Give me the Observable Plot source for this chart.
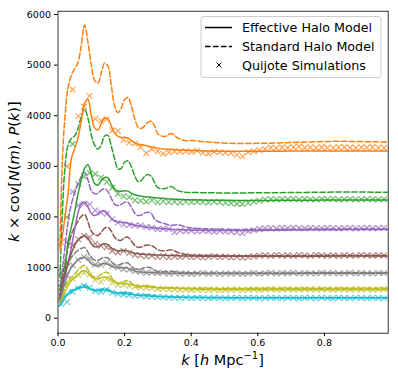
<!DOCTYPE html>
<html><head><meta charset="utf-8">
<script src="https://cdn.jsdelivr.net/npm/d3@7"></script>
<script src="https://cdn.jsdelivr.net/npm/@observablehq/plot@0.6"></script>
<style>body{margin:0;background:#fff;} #chart{width:398px;height:378px;}</style>
</head><body><div id="chart"></div>
<script>
// model wavenumbers
const kModel = [0.006,0.0125,0.02,0.03,0.04,0.05,0.06,0.07,0.08,0.09,0.10,0.11,0.12,0.13,0.14,0.15,0.16,0.17,0.18,0.19,0.20,0.21,0.22,0.23,0.24,0.25,0.26,0.27,0.28,0.29,0.30,0.32,0.34,0.36,0.38,0.40,0.45,0.50,0.55,0.60,0.65,0.70,0.75,0.80,0.85,0.90,0.95,0.99];
// simulation wavenumbers
const kSim = [0.010,0.027,0.044,0.061,0.078,0.095,0.112,0.129,0.146,0.163,0.180,0.197,0.214,0.231,0.248,0.265,0.282,0.299,0.316,0.333,0.350,0.367,0.384,0.401,0.418,0.435,0.452,0.469,0.486,0.503,0.520,0.537,0.554,0.571,0.588,0.605,0.622,0.639,0.656,0.673,0.690,0.707,0.724,0.741,0.758,0.775,0.792,0.809,0.826,0.843,0.860,0.877,0.894,0.911,0.928,0.945,0.962,0.979];

const seriesNames = ["bin1","bin2","bin3","bin4","bin5","bin6","bin7"];
const seriesColors = ["#ff7f0e","#2ca02c","#9467bd","#8c564b","#7f7f7f","#bcbd22","#17becf"];

// Effective Halo Model
const eff1 = [1340,1580,1960,2450,3150,3350,3560,3900,4250,4320,4000,3760,3720,3850,3950,3940,3800,3660,3590,3570,3575,3560,3510,3470,3440,3425,3415,3400,3385,3370,3360,3345,3335,3325,3318,3312,3305,3300,3298,3298,3300,3302,3305,3305,3305,3305,3305,3305];
const eff2 = [550,700,900,1500,1800,2100,2450,2740,2960,3030,2850,2660,2630,2720,2780,2770,2660,2550,2510,2510,2520,2510,2470,2440,2425,2410,2400,2395,2390,2380,2375,2365,2355,2348,2342,2338,2332,2328,2326,2326,2328,2330,2332,2334,2335,2335,2335,2335];
const eff3 = [450,600,800,1080,1400,1750,2080,2260,2290,2200,2070,2030,2060,2110,2120,2060,1970,1920,1900,1895,1890,1875,1850,1835,1825,1815,1805,1795,1788,1780,1775,1765,1757,1750,1745,1740,1735,1733,1733,1735,1738,1742,1745,1748,1750,1752,1753,1755];
const eff4 = [380,650,870,1100,1280,1440,1540,1600,1630,1580,1470,1410,1410,1450,1470,1450,1390,1350,1335,1335,1338,1330,1305,1285,1275,1268,1262,1257,1253,1250,1247,1242,1238,1234,1231,1229,1225,1223,1222,1222,1223,1224,1225,1226,1227,1227,1227,1227];
const eff5 = [330,520,680,880,1000,1080,1160,1190,1205,1160,1080,1045,1045,1070,1080,1065,1030,1010,1000,995,995,985,960,935,920,912,907,903,900,897,895,891,888,886,885,884,883,882,882,883,884,885,886,887,888,888,888,888];
const eff6 = [290,380,500,650,740,800,860,920,940,900,820,785,780,800,812,800,760,720,695,685,680,675,660,648,640,632,625,618,612,607,603,596,590,585,580,577,572,568,566,565,565,566,567,568,568,568,568,568];
const eff7 = [250,330,400,470,520,560,585,605,612,595,560,548,545,548,550,545,525,505,492,485,482,478,470,462,455,450,445,440,436,432,429,424,419,415,412,410,406,404,403,402,402,402,402,402,402,402,402,402];

// Standard Halo Model
const std1 = [1400,3000,3900,4550,4800,4930,5050,5400,5790,5450,5000,4700,4640,4850,5040,4980,4600,4200,4060,4150,4320,4360,4200,3950,3780,3750,3800,3870,3890,3800,3640,3590,3650,3560,3510,3510,3480,3460,3450,3455,3460,3470,3480,3490,3495,3490,3485,3480];
const std2 = [800,2000,2900,3420,3550,3600,3750,3980,4130,3950,3620,3420,3340,3430,3600,3610,3400,3150,2950,2960,3080,3110,3000,2820,2700,2720,2800,2840,2800,2680,2580,2560,2600,2520,2490,2485,2478,2475,2475,2478,2480,2483,2486,2490,2492,2492,2490,2488];
const std3 = [550,950,1350,1900,2250,2480,2650,2800,2880,2730,2520,2460,2470,2530,2560,2500,2370,2250,2225,2250,2290,2290,2200,2080,2030,2040,2080,2095,2070,1960,1910,1870,1835,1845,1810,1785,1765,1755,1752,1752,1755,1757,1760,1762,1763,1763,1762,1762];
const std4 = [450,800,1050,1400,1650,1800,1920,2010,2050,1900,1720,1650,1635,1700,1780,1795,1720,1600,1545,1540,1590,1600,1530,1440,1400,1405,1435,1445,1430,1400,1350,1330,1350,1300,1265,1250,1240,1236,1234,1233,1234,1235,1236,1237,1238,1238,1237,1237];
const std5 = [380,620,820,1050,1200,1280,1340,1380,1395,1300,1200,1150,1140,1180,1200,1190,1120,1060,1050,1070,1095,1090,1030,980,965,975,1000,1005,990,950,925,920,930,910,900,897,894,892,892,893,894,895,896,897,897,897,897,897];
const std6 = [320,450,580,730,800,870,950,1010,1040,960,850,815,820,870,905,900,810,720,685,690,730,745,700,640,615,620,640,648,640,615,600,600,605,598,594,592,590,589,589,590,591,592,593,594,594,594,594,594];
const std7 = [260,350,430,500,545,580,610,635,645,615,570,555,560,575,580,570,535,505,495,500,515,515,490,465,455,458,465,465,455,440,430,428,425,418,414,412,409,407,406,406,406,406,406,406,406,406,406,406];

// Quijote Simulations
const sim1 = [1500,3000,4520,3990,4180,4390,3940,3900,3930,3710,3700,3520,3470,3450,3380,3260,3340,3300,3250,3280,3300,3290,3300,3290,3310,3270,3250,3290,3280,3270,3260,3230,3200,3280,3300,3320,3340,3370,3360,3375,3365,3380,3390,3370,3375,3365,3380,3370,3365,3375,3380,3370,3365,3375,3370,3380,3370,3365];
const sim2 = [900,2000,3440,2650,2800,2870,2850,2780,2690,2580,2460,2410,2390,2330,2320,2300,2330,2290,2310,2290,2300,2285,2305,2290,2300,2295,2285,2300,2290,2280,2270,2260,2255,2280,2300,2320,2345,2350,2345,2355,2350,2360,2345,2355,2350,2345,2355,2350,2360,2345,2350,2355,2345,2350,2355,2350,2345,2350];
const sim3 = [700,1500,2500,2230,2260,2250,2130,2090,2060,1960,1890,1850,1840,1830,1830,1800,1790,1760,1770,1760,1700,1730,1720,1730,1715,1725,1720,1710,1725,1715,1710,1700,1680,1720,1740,1760,1775,1780,1770,1785,1775,1790,1780,1775,1785,1780,1775,1785,1780,1775,1780,1785,1775,1780,1785,1775,1780,1785];
const sim4 = [600,1100,1440,1560,1630,1600,1470,1430,1400,1330,1300,1330,1290,1250,1240,1220,1235,1210,1230,1205,1225,1210,1230,1205,1220,1200,1215,1225,1205,1220,1200,1215,1195,1210,1225,1235,1245,1230,1250,1235,1245,1230,1250,1240,1230,1250,1240,1235,1245,1230,1245,1240,1235,1250,1240,1235,1245,1240];
const sim5 = [450,850,1050,1150,1210,1180,1060,1050,1090,1030,1000,970,960,930,915,900,905,890,900,880,895,880,890,875,885,895,880,890,875,885,880,890,875,885,895,880,890,900,885,895,890,900,885,895,890,885,900,890,895,885,890,900,885,895,890,885,895,890];
const sim6 = [400,700,780,850,900,860,760,720,780,700,660,660,640,620,610,600,590,580,585,570,575,565,570,560,570,565,560,570,555,565,560,570,555,565,570,560,570,575,565,570,575,565,570,575,570,565,575,570,565,575,570,565,575,570,575,565,570,575];
const sim7 = [280,320,520,590,640,600,540,520,560,510,480,470,460,440,445,430,425,420,415,410,405,400,410,395,405,400,395,405,400,395,400,405,395,400,405,395,400,405,400,395,405,400,395,405,400,395,405,400,395,405,400,395,405,400,395,405,400,395];

const legendLabels = ["Effective Halo Model","Standard Halo Model","Quijote Simulations"];
const xTicks = [0,0.2,0.4,0.6,0.8];
const yTicks = [0,1000,2000,3000,4000,5000,6000];

const effective = [eff1,eff2,eff3,eff4,eff5,eff6,eff7];
const standard = [std1,std2,std3,std4,std5,std6,std7];
const sims = [sim1,sim2,sim3,sim4,sim5,sim6,sim7];

const effRows = [], stdRows = [], simRows = [];
seriesNames.forEach((s, i) => {
  kModel.forEach((k, j) => {
    effRows.push({k, v: effective[i][j], s});
    stdRows.push({k, v: standard[i][j], s});
  });
  kSim.forEach((k, j) => simRows.push({k, v: sims[i][j], s}));
});

const plot = Plot.plot({
  width: 398, height: 378,
  marginLeft: 57.5, marginRight: 10.3, marginTop: 10.7, marginBottom: 45.3,
  style: {fontFamily: "DejaVu Sans", fontSize: "9.5px", color: "black", background: "white"},
  x: {domain: [0, 0.9916], ticks: xTicks, tickFormat: d3.format(".1f"), label: null, tickSize: 3.5, tickPadding: 3},
  y: {domain: [-296, 6065], ticks: yTicks, tickFormat: d => String(d), label: null, tickSize: 3.5, tickPadding: 3.5},
  color: {domain: seriesNames, range: seriesColors},
  marks: [
    Plot.dot(simRows, {x: "k", y: "v", stroke: "s", symbol: "times", r: 2.7, strokeWidth: 1.2, strokeOpacity: 0.7, clip: true}),
    Plot.line(stdRows, {x: "k", y: "v", stroke: "s", z: "s", strokeWidth: 1.5, strokeDasharray: "5.55,2.4", curve: "catmull-rom", clip: true}),
    Plot.line(effRows, {x: "k", y: "v", stroke: "s", z: "s", strokeWidth: 1.5, curve: "catmull-rom", clip: true}),
    Plot.frame({stroke: "black", strokeWidth: 0.8})
  ]
});

document.getElementById("chart").appendChild(plot);

const svg = d3.select(plot);
const ns = "DejaVu Sans";
// y label
const yl = svg.append("text")
  .attr("transform", "translate(19,171.7) rotate(-90)")
  .attr("text-anchor", "middle")
  .style("font-family", ns).style("font-size", "14.5px").attr("fill", "black");
[["k",1],[" × cov[",0],["N",1],["(",0],["m",1],["), ",0],["P",1],["(",0],["k",1],[")]",0]].forEach(([t, it]) => {
  yl.append("tspan").text(t).style("font-style", it ? "italic" : "normal");
});
// x label
const xl = svg.append("text")
  .attr("x", 222.6).attr("y", 365)
  .attr("text-anchor", "middle")
  .style("font-family", ns).style("font-size", "14.5px").attr("fill", "black");
[["k",1],[" [",0],["h",1],[" Mpc",0]].forEach(([t, it]) => {
  xl.append("tspan").text(t).style("font-style", it ? "italic" : "normal");
});
xl.append("tspan").text("−1").attr("dy", -6).style("font-size", "10px");
xl.append("tspan").text("]").attr("dy", 6);

// legend
const lg = svg.append("g").style("font-family", ns).style("font-size", "12.7px").attr("text-anchor", "start");
lg.append("rect").attr("x", 201).attr("y", 16.5).attr("width", 180).attr("height", 61)
  .attr("rx", 3).attr("fill", "white").attr("fill-opacity", 0.8).attr("stroke", "#cccccc").attr("stroke-width", 1);
lg.append("line").attr("x1", 205).attr("x2", 232).attr("y1", 27.5).attr("y2", 27.5).attr("stroke", "black").attr("stroke-width", 1.5);
lg.append("line").attr("x1", 205).attr("x2", 232).attr("y1", 46.5).attr("y2", 46.5).attr("stroke", "black").attr("stroke-width", 1.5).attr("stroke-dasharray", "5.55,2.4");
lg.append("path").attr("d", "M216.5,62.5L221.5,67.5M216.5,67.5L221.5,62.5").attr("stroke", "black").attr("stroke-width", 1);
legendLabels.forEach((t, i) => {
  lg.append("text").attr("x", 242).attr("y", 32.3 + i * 19).attr("fill", "black").attr("text-anchor", "start").text(t);
});
</script>
</body></html>
